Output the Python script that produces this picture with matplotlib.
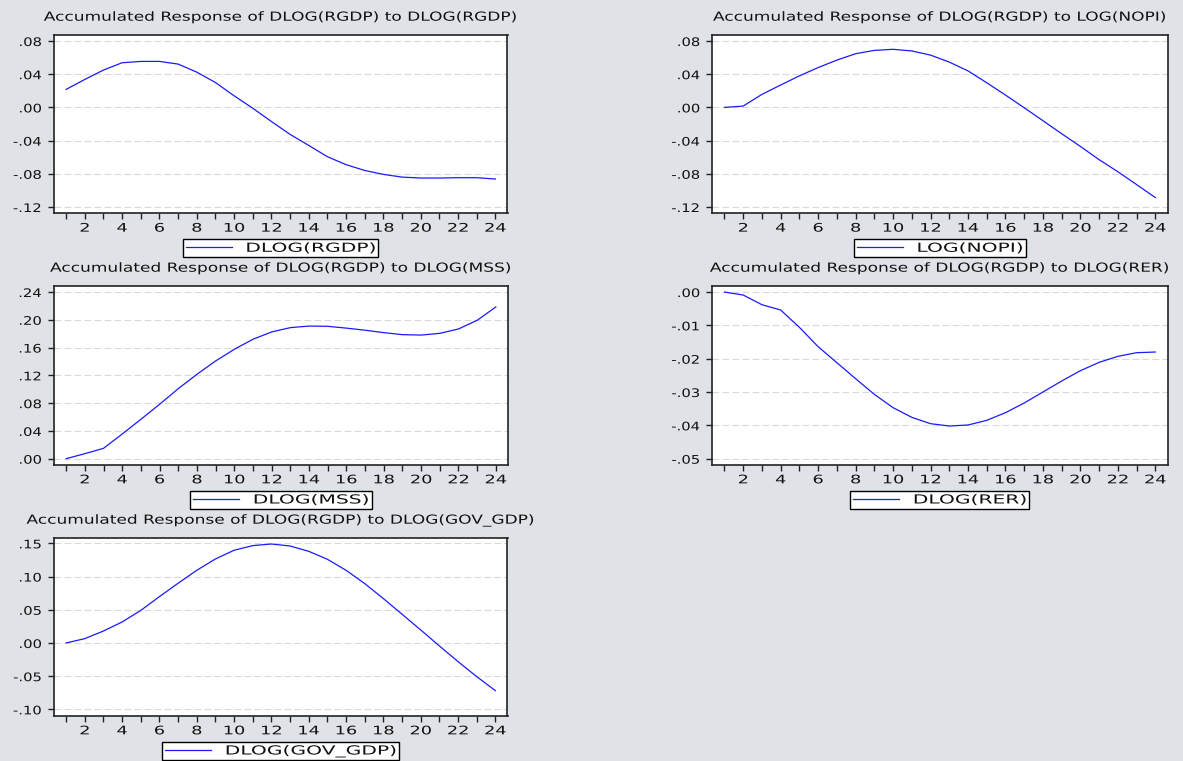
import matplotlib
matplotlib.use("Agg")
import matplotlib.pyplot as plt
from matplotlib.ticker import FuncFormatter, FixedLocator
from matplotlib.patheffects import AbstractPathEffect
from matplotlib.transforms import Affine2D
from matplotlib.legend_handler import HandlerLine2D

plt.rcParams['font.family'] = ['DejaVu Sans']

horizon = list(range(1, 25))
xtick_labels = [str(h) if h % 2 == 0 else '' for h in horizon]

titles = [
    "Accumulated Response of DLOG(RGDP) to DLOG(RGDP)",
    "Accumulated Response of DLOG(RGDP) to LOG(NOPI)",
    "Accumulated Response of DLOG(RGDP) to DLOG(MSS)",
    "Accumulated Response of DLOG(RGDP) to DLOG(RER)",
    "Accumulated Response of DLOG(RGDP) to DLOG(GOV_GDP)",
]
series_names = ["DLOG(RGDP)", "LOG(NOPI)", "DLOG(MSS)", "DLOG(RER)", "DLOG(GOV_GDP)"]

resp_rgdp = [0.0217, 0.0337, 0.0450, 0.0538, 0.0554, 0.0554, 0.0522, 0.0425,
             0.0300, 0.0140, -0.0010, -0.0170, -0.0325, -0.0458, -0.0594, -0.0690,
             -0.0760, -0.0807, -0.0840, -0.0851, -0.0851, -0.0847, -0.0847, -0.0863]
resp_nopi = [0.0000, 0.0016, 0.0157, 0.0270, 0.0380, 0.0480, 0.0570, 0.0647,
             0.0687, 0.0700, 0.0680, 0.0630, 0.0546, 0.0440, 0.0297, 0.0149,
             -0.0004, -0.0160, -0.0317, -0.0470, -0.0630, -0.0775, -0.0930, -0.1086]
resp_mss = [0.0000, 0.0072, 0.0149, 0.0355, 0.0567, 0.0783, 0.1008, 0.1215,
            0.1407, 0.1575, 0.1720, 0.1825, 0.1887, 0.1910, 0.1906, 0.1880,
            0.1850, 0.1815, 0.1786, 0.1780, 0.1805, 0.1868, 0.1993, 0.2185]
resp_rer = [0.0000, -0.0009, -0.0038, -0.0054, -0.0106, -0.0164, -0.0212, -0.0260,
            -0.0307, -0.0347, -0.0376, -0.0395, -0.0402, -0.0399, -0.0385, -0.0362,
            -0.0333, -0.0300, -0.0267, -0.0236, -0.0211, -0.0193, -0.0182, -0.0180]
resp_gov = [0.0000, 0.0065, 0.0180, 0.0316, 0.0490, 0.0698, 0.0899, 0.1094,
            0.1265, 0.1396, 0.1466, 0.1490, 0.1460, 0.1380, 0.1260, 0.1094,
            0.0894, 0.0668, 0.0432, 0.0196, -0.0045, -0.0281, -0.0507, -0.0718]

responses = [resp_rgdp, resp_nopi, resp_mss, resp_rer, resp_gov]

yticks_list = [
    [-0.12, -0.08, -0.04, 0.00, 0.04, 0.08],
    [-0.12, -0.08, -0.04, 0.00, 0.04, 0.08],
    [0.00, 0.04, 0.08, 0.12, 0.16, 0.20, 0.24],
    [-0.05, -0.04, -0.03, -0.02, -0.01, 0.00],
    [-0.10, -0.05, 0.00, 0.05, 0.10, 0.15],
]
ylims = [(-0.1276, 0.0876), (-0.1276, 0.0876), (-0.0091, 0.2491),
         (-0.0519, 0.0019), (-0.110, 0.1585)]

W, H = 1183, 761
DPI = 100
# pixel boxes: left, top, right, bottom
boxes = [(54, 34.7, 507.5, 213.3), (712.3, 34.7, 1167.5, 213.3),
         (54, 285.7, 508, 465), (712.3, 285.7, 1167.5, 465),
         (54, 537.7, 507.5, 716)]


class HStretch(AbstractPathEffect):
    """Draw text widened horizontally (EViews-style wide lettering)."""

    def __init__(self, sx, anchor='center'):
        super().__init__()
        self.sx = sx
        self.anchor = anchor

    def draw_path(self, renderer, gc, tpath, affine, rgbFace=None):
        if len(tpath.vertices) == 0:
            return
        ext = tpath.get_extents()
        if self.anchor == 'left':
            cx = ext.x0
        elif self.anchor == 'right':
            cx = ext.x1
        else:
            cx = 0.5 * (ext.x0 + ext.x1)
        t = Affine2D().translate(-cx, 0).scale(self.sx, 1).translate(cx, 0) + affine
        renderer.draw_path(gc, tpath, t, rgbFace)


bg = '#dfe3e8'
fig = plt.figure(figsize=(W / DPI, H / DPI), dpi=DPI, facecolor=bg)

TITLE_FS, TITLE_SX = 9.0, 1.36
XT_FS, XT_SX = 8.5, 1.5
YT_FS, YT_SX = 8.5, 1.25
LEG_FS, LEG_SX = 9.0, 1.62
text_color = '#111111'


def fmt(v, pos):
    s = f"{v:.2f}"
    if s.startswith("0."):
        s = s[1:]
    elif s.startswith("-0."):
        s = "-" + s[2:]
    if s == "-.00":
        s = ".00"
    return s


def make_legend(ax, line, name, hpx, htp):
    leg = ax.legend([line], [name], loc='center',
                    bbox_to_anchor=(0.5, -35.0 / hpx), frameon=True, fancybox=False,
                    edgecolor='black', framealpha=1, handlelength=3.7,
                    handletextpad=htp, borderpad=0.2, fontsize=LEG_FS,
                    borderaxespad=0,
                    handler_map={line: HandlerLine2D(marker_pad=0.55)})
    leg.get_frame().set_linewidth(1.0)
    for txt in leg.get_texts():
        txt.set_color(text_color)
        txt.set_path_effects([HStretch(LEG_SX, 'right')])
    return leg


legend_items = []
for i in range(5):
    l, t, r, b = boxes[i]
    ax = fig.add_axes([l / W, 1 - b / H, (r - l) / W, (b - t) / H])
    ax.set_facecolor('white')
    line, = ax.plot(horizon, responses[i], color='#1a1aff', lw=0.9)
    ax.set_xlim(0.35, 24.65)
    ax.set_ylim(*ylims[i])
    ax.xaxis.set_major_locator(FixedLocator(horizon))
    ax.set_xticklabels(xtick_labels)
    ax.yaxis.set_major_locator(FixedLocator(yticks_list[i]))
    ax.yaxis.set_major_formatter(FuncFormatter(fmt))
    ax.yaxis.grid(True, linestyle=(0, (6, 3)), color='#d9d9d9', lw=0.8)
    ax.set_axisbelow(True)
    for sp in ax.spines.values():
        sp.set_color('#222222')
        sp.set_linewidth(1.2)
    ax.tick_params(axis='x', direction='out', length=4, width=1, colors='#222222',
                   labelsize=XT_FS, labelcolor=text_color, pad=2)
    ax.tick_params(axis='y', direction='out', length=4, width=1, colors='#222222',
                   labelsize=YT_FS, labelcolor=text_color, pad=5)
    for lab in ax.get_xticklabels():
        lab.set_path_effects([HStretch(XT_SX, 'center')])
    for lab in ax.get_yticklabels():
        lab.set_path_effects([HStretch(YT_SX, 'right')])

    hpx = b - t
    ttl = ax.text(0.5, 1 + 17.5 / hpx, titles[i], transform=ax.transAxes,
                  ha='center', va='center', fontsize=TITLE_FS, color=text_color)
    ttl.set_path_effects([HStretch(TITLE_SX, 'center')])

    htp0 = 1.0
    leg = make_legend(ax, line, series_names[i], hpx, htp0)
    legend_items.append((ax, line, series_names[i], hpx, htp0, leg))

# measure the laid-out legends, then widen the gap so the stretched label
# starts a little after the handle line
fig.canvas.draw()
rend = fig.canvas.get_renderer()
fs_px = rend.points_to_pixels(LEG_FS)
for ax, line, name, hpx, htp0, leg in legend_items:
    tb = leg.get_texts()[0].get_window_extent(rend)
    hb = leg.legend_handles[0].get_window_extent(rend)
    ink_start = tb.x1 - LEG_SX * (tb.width - 2.0)
    desired = hb.x1 + 16.0
    delta = desired - ink_start
    make_legend(ax, line, name, hpx, htp0 + delta / fs_px)

fig.savefig('out.png', dpi=DPI, facecolor=bg)
